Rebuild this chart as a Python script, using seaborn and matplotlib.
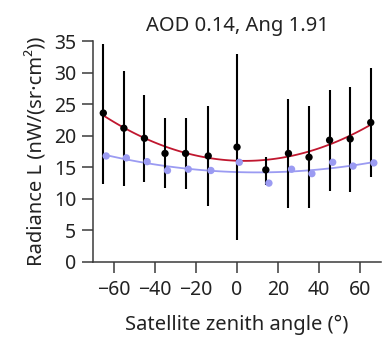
import matplotlib
matplotlib.use("Agg")
import matplotlib.pyplot as plt
import seaborn as sns
import numpy as np
import pandas as pd

# ---- data ----
angle_obs = [-65, -55, -45, -35, -25, -14, 0, 14, 25, 35, 45, 55, 65]
rad_obs = [23.6, 21.2, 19.6, 17.2, 17.2, 16.8, 18.2, 14.6, 17.2, 16.6, 19.3, 19.5, 22.1]
rad_low = [12.4, 12.1, 12.6, 11.8, 11.5, 8.8, 3.5, 12.2, 8.5, 8.6, 11.3, 11.1, 13.5]
rad_high = [34.6, 30.3, 26.4, 22.8, 22.8, 24.7, 32.9, 16.7, 25.8, 24.7, 27.3, 27.7, 30.7]

angle_mod = [-63.6, -53.8, -43.7, -33.8, -23.7, -12.7, 1.1, 15.5, 26.5, 36.4, 46.5, 56.4, 66.5]
rad_mod = [16.8, 16.5, 15.9, 14.5, 14.7, 14.5, 15.8, 12.5, 14.7, 14.0, 15.8, 15.2, 15.7]

x_ticks = [-60, -40, -20, 0, 20, 40, 60]
y_ticks = [0, 5, 10, 15, 20, 25, 30, 35]
title = "AOD 0.14, Ang 1.91"
xlabel = "Satellite zenith angle (°)"
ylabel = "Radiance L (nW/(sr·cm²))"

obs = pd.DataFrame({"angle": angle_obs, "rad": rad_obs, "lo": rad_low, "hi": rad_high})
mod = pd.DataFrame({"angle": angle_mod, "rad": rad_mod})

sns.set_style("ticks")
plt.rcParams["font.family"] = ["Noto Sans", "DejaVu Sans"]

RED = "#c0172f"
BLUE = "#9b9bf2"
AX = "#3a3a3a"
TXT = "#222222"

fig = plt.figure(figsize=(3.9, 3.37), dpi=100)
ax = fig.add_axes([0.2385, 0.2226, 0.977 - 0.2385, 0.878 - 0.2226])

# fitted curves
sns.regplot(data=obs, x="angle", y="rad", order=2, ci=None, scatter=False,
            truncate=True, ax=ax, line_kws=dict(color=RED, lw=1.3, zorder=2))
sns.regplot(data=mod, x="angle", y="rad", order=2, ci=None, scatter=False,
            truncate=True, ax=ax, line_kws=dict(color=BLUE, lw=1.3, zorder=2))

# error bars
ax.vlines(obs["angle"], obs["lo"], obs["hi"], color="black", lw=1.5, zorder=3)

sns.scatterplot(data=mod, x="angle", y="rad", ax=ax, color=BLUE, s=28,
                edgecolor="none", zorder=4)
sns.scatterplot(data=obs, x="angle", y="rad", ax=ax, color="black", s=28,
                edgecolor="none", zorder=5)

ax.set_xlim(-70, 70)
ax.set_ylim(0, 35)
ax.set_xticks(x_ticks)
ax.set_yticks(y_ticks)
ax.set_title(title, fontsize=14.5, pad=7, color=TXT)
ax.set_xlabel(xlabel, fontsize=14.5, labelpad=11, color=TXT)
ax.set_ylabel(ylabel, fontsize=14.5, labelpad=5, color=TXT)
ax.tick_params(axis="both", labelsize=14, length=8, width=1.1, color=AX,
               labelcolor=TXT)
ax.tick_params(axis="x", pad=5)
ax.tick_params(axis="y", pad=4)
sns.despine(ax=ax)
for s in ["left", "bottom"]:
    ax.spines[s].set_color(AX)
    ax.spines[s].set_linewidth(1.1)

fig.savefig("out.png", dpi=100)
